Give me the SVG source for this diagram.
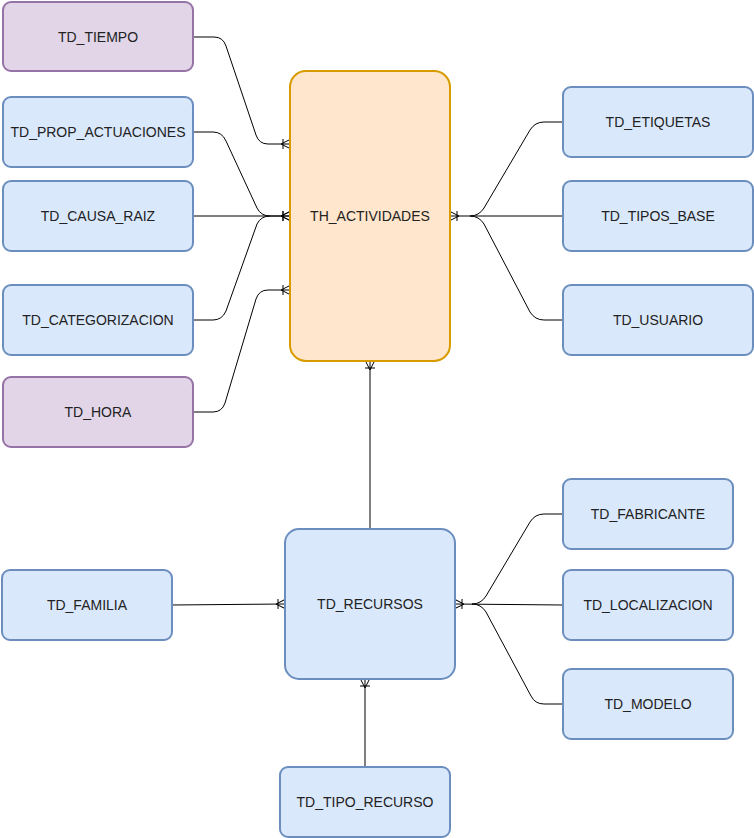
<svg xmlns="http://www.w3.org/2000/svg" width="754" height="838" viewBox="0 0 754 838">
<style>
.n rect{stroke-width:2}
.p rect{fill:#e1d5e7;stroke:#9673a6}
.b rect{fill:#dae8fc;stroke:#6c8ebf}
.o rect{fill:#ffe6cc;stroke:#d79b00}
text{font-family:"Liberation Sans",Arial,sans-serif;font-size:14px;fill:#222222;text-anchor:middle;dominant-baseline:central}
#edges path{fill:none;stroke:#000;stroke-width:1}
.m{marker-end:url(#cf)}
</style>
<defs>
<marker id="cf" markerUnits="userSpaceOnUse" markerWidth="12" markerHeight="12" refX="10" refY="6" orient="auto" overflow="visible">
<path d="M1,6 L10,1.5 M1,6 L10,10.5 M3,1 L3,11" fill="none" stroke="#000" stroke-width="1"/>
</marker>
</defs>
<rect width="754" height="838" fill="#ffffff"/>
<g id="edges">
<path class="m" d="M193,37 L214,37 Q223,37 226,46 L256,135 Q259,144 268,144 L290,144"/>
<path class="m" d="M193,132 L213,132 Q222,132 226,141 L257,208 Q261,216 270,216 L290,216"/>
<path class="m" d="M193,216 L290,216"/>
<path d="M193,320 L213,320 Q222,320 226,311 L257,224 Q261,216 270,216"/>
<path class="m" d="M193,412 L213,412 Q222,412 225,403 L256,299 Q259,290 268,290 L290,290"/>
<path d="M563,122 L544,122 Q535,122 530,130 L484,208 Q479,216 470,216"/>
<path class="m" d="M563,216 L450,216"/>
<path d="M563,320 L544,320 Q535,320 530,312 L484,224 Q479,216 470,216"/>
<path class="m" d="M370,529 L370,361"/>
<path class="m" d="M172,605 L285,604"/>
<path d="M563,514 L544,514 Q535,514 530,522 L486,596 Q481,604 472,604"/>
<path class="m" d="M563,605 L455,604"/>
<path d="M563,704 L544,704 Q535,704 531,696 L486,612 Q481,604 472,604"/>
<path class="m" d="M365,767 L365,679"/>
</g>
<g id="TD_TIEMPO" class="n p"><rect x="3" y="2" width="190" height="69" rx="8"/><text x="98" y="37">TD_TIEMPO</text></g>
<g id="TD_PROP_ACTUACIONES" class="n b"><rect x="3" y="97" width="190" height="70" rx="8"/><text x="98" y="132">TD_PROP_ACTUACIONES</text></g>
<g id="TD_CAUSA_RAIZ" class="n b"><rect x="3" y="181" width="190" height="70" rx="8"/><text x="98" y="216">TD_CAUSA_RAIZ</text></g>
<g id="TD_CATEGORIZACION" class="n b"><rect x="3" y="285" width="190" height="70" rx="8"/><text x="98" y="320">TD_CATEGORIZACION</text></g>
<g id="TD_HORA" class="n p"><rect x="3" y="377" width="190" height="70" rx="8"/><text x="98" y="412">TD_HORA</text></g>
<g id="TH_ACTIVIDADES" class="n o"><rect x="290" y="71" width="160" height="290" rx="16"/><text x="370" y="216">TH_ACTIVIDADES</text></g>
<g id="TD_ETIQUETAS" class="n b"><rect x="563" y="87" width="190" height="70" rx="8"/><text x="658" y="122">TD_ETIQUETAS</text></g>
<g id="TD_TIPOS_BASE" class="n b"><rect x="563" y="181" width="190" height="70" rx="8"/><text x="658" y="216">TD_TIPOS_BASE</text></g>
<g id="TD_USUARIO" class="n b"><rect x="563" y="285" width="190" height="70" rx="8"/><text x="658" y="320">TD_USUARIO</text></g>
<g id="TD_RECURSOS" class="n b"><rect x="285" y="529" width="170" height="150" rx="14"/><text x="370" y="604">TD_RECURSOS</text></g>
<g id="TD_FAMILIA" class="n b"><rect x="2" y="570" width="170" height="70" rx="8"/><text x="87" y="605">TD_FAMILIA</text></g>
<g id="TD_FABRICANTE" class="n b"><rect x="563" y="479" width="170" height="70" rx="8"/><text x="648" y="514">TD_FABRICANTE</text></g>
<g id="TD_LOCALIZACION" class="n b"><rect x="563" y="570" width="170" height="70" rx="8"/><text x="648" y="605">TD_LOCALIZACION</text></g>
<g id="TD_MODELO" class="n b"><rect x="563" y="669" width="170" height="70" rx="8"/><text x="648" y="704">TD_MODELO</text></g>
<g id="TD_TIPO_RECURSO" class="n b"><rect x="280" y="767" width="170" height="70" rx="8"/><text x="365" y="802">TD_TIPO_RECURSO</text></g>
</svg>
